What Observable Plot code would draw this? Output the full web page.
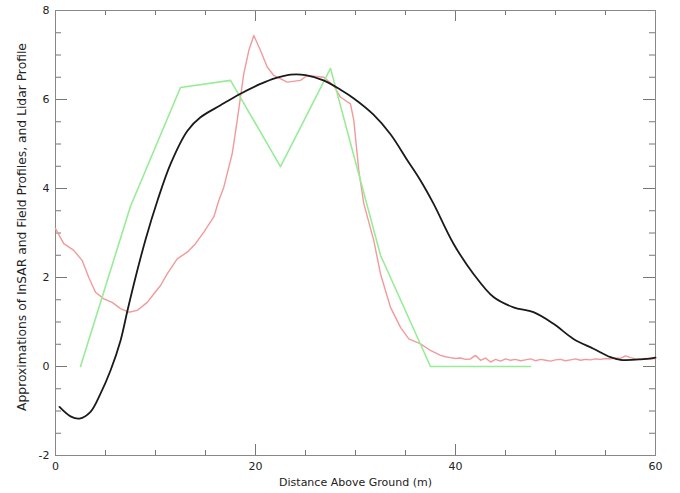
<!DOCTYPE html>
<html>
<head>
<meta charset="utf-8">
<script src="https://cdn.jsdelivr.net/npm/d3@7"></script>
<script src="https://cdn.jsdelivr.net/npm/@observablehq/plot@0.6"></script>
<style>
  html, body { margin: 0; padding: 0; background: #fff; }
  #chart { width: 680px; height: 493px; }
  svg { font-family: "DejaVu Sans", sans-serif; }
</style>
</head>
<body>
<div id="chart"></div>
<script>
// Lidar profile (black)
const lidarX = [0.4, 1.5, 2.4, 3.5, 4.5, 5.5, 6.5, 7.2, 8.0, 9.0, 10.2, 11.5, 13.2, 14.5, 16.5, 18.5, 20.5, 22.0, 23.5, 25.0, 26.8, 28.5, 29.8, 31.8, 33.5, 35.2, 36.5, 37.8, 39.8, 41.8, 43.8, 45.8, 47.8, 49.8, 51.8, 53.8, 55.5, 56.5, 58.5, 60];
const lidarY = [-0.91, -1.12, -1.17, -1.02, -0.61, -0.09, 0.58, 1.26, 2.0, 2.85, 3.73, 4.55, 5.3, 5.6, 5.87, 6.13, 6.35, 6.48, 6.56, 6.55, 6.43, 6.22, 6.03, 5.66, 5.22, 4.63, 4.18, 3.66, 2.76, 2.08, 1.56, 1.33, 1.22, 0.96, 0.62, 0.4, 0.21, 0.15, 0.16, 0.2];

// InSAR profile (red)
const insarX = [0, 0.83, 1.83, 2.67, 3.33, 4.0, 4.83, 5.67, 6.5, 7.33, 8.17, 9.17, 9.83, 10.5, 11.17, 12.17, 13.17, 14.0, 14.83, 15.83, 16.33, 16.83, 17.67, 18.17, 18.83, 19.33, 19.83, 20.5, 21.17, 21.83, 23.17, 24.5, 25.17, 26.83, 27.83, 28.5, 29.5, 29.83, 30.33, 30.83, 31.83, 32.5, 33.5, 34.5, 35.33, 36.5, 37.5, 38.5,
  39, 39.5, 40, 40.5, 41, 41.5, 42, 42.5, 43, 43.5, 44, 44.5, 45, 45.5, 46, 46.5, 47, 47.5, 48, 48.5, 49, 49.5, 50, 50.5, 51, 51.5, 52, 52.5, 53, 53.5, 54, 54.5, 55, 55.5, 56, 56.5, 57, 57.5, 58, 58.5, 59, 59.5, 60];
const insarY = [3.1, 2.76, 2.61, 2.38, 2.0, 1.67, 1.52, 1.44, 1.3, 1.22, 1.26, 1.44, 1.63, 1.82, 2.08, 2.42, 2.57, 2.76, 3.02, 3.36, 3.73, 4.03, 4.78, 5.53, 6.58, 7.1, 7.44, 7.1, 6.73, 6.54, 6.39, 6.43, 6.54, 6.5, 6.31, 6.05, 5.9, 5.53, 4.4, 3.66, 2.83, 2.08, 1.33, 0.88, 0.62, 0.51, 0.36, 0.25,
  0.22, 0.2, 0.18, 0.19, 0.16, 0.17, 0.25, 0.14, 0.19, 0.1, 0.16, 0.12, 0.17, 0.14, 0.16, 0.13, 0.15, 0.17, 0.13, 0.16, 0.14, 0.12, 0.15, 0.16, 0.13, 0.15, 0.17, 0.14, 0.16, 0.15, 0.17, 0.16, 0.18, 0.17, 0.19, 0.18, 0.24, 0.2, 0.17, 0.16, 0.18, 0.17, 0.18];

// Field profile (green)
const fieldX = [2.5, 7.5, 12.5, 17.5, 22.5, 27.5, 32.5, 37.5, 42.5, 47.5];
const fieldY = [0, 3.6, 6.27, 6.43, 4.49, 6.7, 2.5, 0, 0, 0];

// Axis ticks
const xLabelTicks = [0, 20, 40, 60];
const xMajorTicks = [20, 40];
const xMinorTicks = [5, 10, 15, 25, 30, 35, 45, 50, 55];
const yLabelTicks = [-2, 0, 2, 4, 6, 8];
const yMajorTicks = [0, 2, 4, 6];
const yMinorTicks = [-1.5, -1, -0.5, 0.5, 1, 1.5, 2.5, 3, 3.5, 4.5, 5, 5.5, 6.5, 7, 7.5];

const xLabel = "Distance Above Ground (m)";
const yLabel = "Approximations of InSAR and Field Profiles, and Lidar Profile";

const toRows = (xs, ys) => xs.map((x, i) => ({x, y: ys[i]}));
const lidar = toRows(lidarX, lidarY);
const insar = toRows(insarX, insarY);
const field = toRows(fieldX, fieldY);

const W = 680, H = 493, ML = 55, MR = 25, MT = 10, MB = 38;
const innerW = W - ML - MR, innerH = H - MT - MB;
const tickColor = "#777";
const majX = 11, minX = 5, majY = 12, minY = 6;

const chart = Plot.plot({
  width: W,
  height: H,
  marginLeft: ML,
  marginRight: MR,
  marginTop: MT,
  marginBottom: MB,
  style: {fontFamily: "DejaVu Sans, sans-serif", fontSize: "11px", color: "#222", background: "#fff"},
  x: {domain: [0, 60]},
  y: {domain: [-2, 8]},
  marks: [
    Plot.axisX(xLabelTicks, {anchor: "bottom", tickSize: 0, tickPadding: 7, tickFormat: d => String(d), label: xLabel, labelAnchor: "center", labelOffset: 30, labelArrow: "none", fontSize: 11}),
    Plot.axisY(yLabelTicks, {anchor: "left", tickSize: 0, tickPadding: 6, tickFormat: d => String(d), label: null, fontSize: 11}),
    Plot.text([yLabel], {frameAnchor: "left", textAnchor: "middle", rotate: -90, dx: -33, dy: -6, fontSize: 12.3, fill: "#222"}),
    // inward ticks bottom/top
    Plot.tickX(xMajorTicks, {x: d => d, insetTop: innerH - majX, stroke: tickColor}),
    Plot.tickX(xMinorTicks, {x: d => d, insetTop: innerH - minX, stroke: tickColor}),
    Plot.tickX(xMajorTicks, {x: d => d, insetBottom: innerH - majX, stroke: tickColor}),
    Plot.tickX(xMinorTicks, {x: d => d, insetBottom: innerH - minX, stroke: tickColor}),
    // inward ticks left/right
    Plot.tickY(yMajorTicks, {y: d => d, insetRight: innerW - majY, stroke: tickColor}),
    Plot.tickY(yMinorTicks, {y: d => d, insetRight: innerW - minY, stroke: tickColor}),
    Plot.tickY(yMajorTicks, {y: d => d, insetLeft: innerW - majY, stroke: tickColor}),
    Plot.tickY(yMinorTicks, {y: d => d, insetLeft: innerW - minY, stroke: tickColor}),
    Plot.frame({stroke: "#888"}),
    Plot.line(insar, {x: "x", y: "y", stroke: "#f29a9a", strokeWidth: 1.4}),
    Plot.line(field, {x: "x", y: "y", stroke: "#98ec98", strokeWidth: 1.6}),
    Plot.line(lidar, {x: "x", y: "y", stroke: "#1a1a1a", strokeWidth: 1.8, curve: "catmull-rom"})
  ]
});

document.getElementById("chart").appendChild(chart);
</script>
</body>
</html>
